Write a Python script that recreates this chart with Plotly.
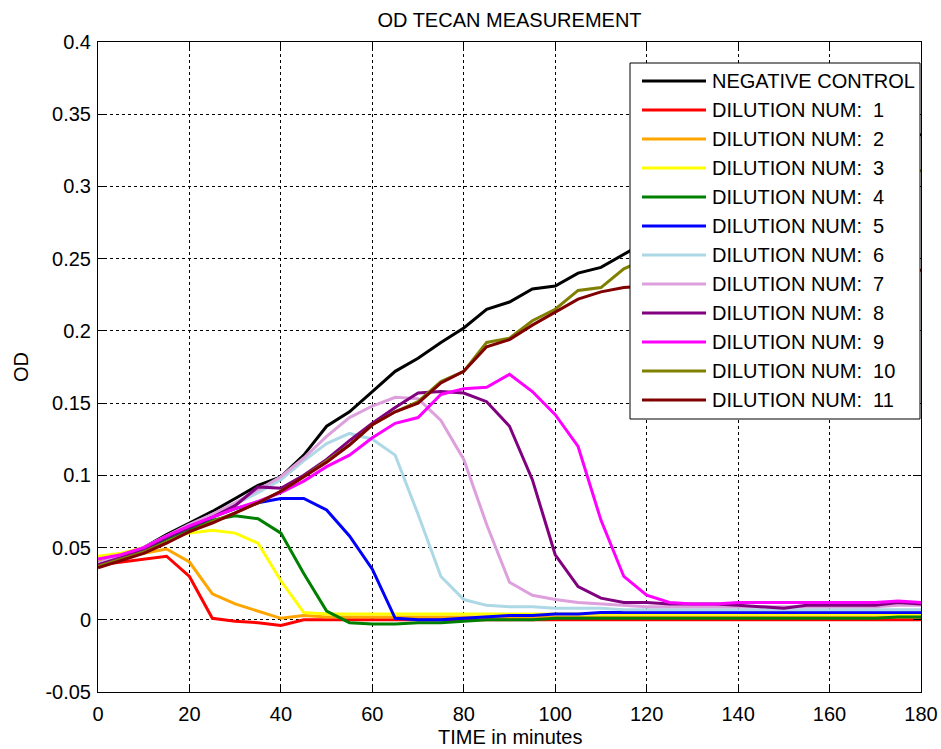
import plotly.graph_objects as go

# Sampling times (minutes)
time_min = list(range(0, 181, 5))

# OD readings per well
neg_control = [0.039, 0.044, 0.050, 0.059, 0.067, 0.075, 0.084, 0.093, 0.099, 0.114,
               0.134, 0.144, 0.158, 0.172, 0.181, 0.192, 0.202, 0.215, 0.220, 0.229,
               0.231, 0.240, 0.244, 0.253, 0.262, 0.270, 0.278, 0.285, 0.292, 0.299,
               0.305, 0.311, 0.317, 0.322, 0.327, 0.332, 0.336]
dil_1 = [0.038, 0.040, 0.042, 0.044, 0.030, 0.001, -0.001, -0.002, -0.004, 0.000,
         0.000, 0.000, 0.000, 0.000, 0.000, 0.000, 0.000, 0.000, 0.000, 0.000,
         0.000, 0.000, 0.000, 0.000, 0.000, 0.000, 0.000, 0.000, 0.000, 0.000,
         0.000, 0.000, 0.000, 0.000, 0.000, 0.000, 0.000]
dil_2 = [0.040, 0.044, 0.046, 0.049, 0.040, 0.018, 0.011, 0.006, 0.001, 0.003,
         0.002, 0.002, 0.002, 0.002, 0.002, 0.002, 0.002, 0.002, 0.002, 0.002,
         0.002, 0.002, 0.002, 0.002, 0.002, 0.002, 0.002, 0.002, 0.002, 0.002,
         0.002, 0.002, 0.002, 0.002, 0.002, 0.002, 0.002]
dil_3 = [0.044, 0.046, 0.050, 0.057, 0.060, 0.062, 0.060, 0.053, 0.027, 0.005,
         0.004, 0.004, 0.004, 0.004, 0.004, 0.004, 0.004, 0.004, 0.004, 0.004,
         0.004, 0.004, 0.004, 0.004, 0.004, 0.004, 0.004, 0.004, 0.004, 0.004,
         0.004, 0.004, 0.004, 0.004, 0.004, 0.004, 0.004]
dil_4 = [0.038, 0.043, 0.048, 0.056, 0.063, 0.069, 0.072, 0.070, 0.060, 0.032,
         0.006, -0.002, -0.003, -0.003, -0.002, -0.002, -0.001, 0.000, 0.000, 0.000,
         0.001, 0.001, 0.001, 0.001, 0.001, 0.001, 0.001, 0.001, 0.001, 0.001,
         0.001, 0.001, 0.001, 0.001, 0.001, 0.002, 0.002]
dil_5 = [0.039, 0.044, 0.049, 0.057, 0.064, 0.071, 0.077, 0.081, 0.084, 0.084,
         0.076, 0.058, 0.035, 0.001, 0.000, 0.000, 0.001, 0.002, 0.003, 0.003,
         0.004, 0.004, 0.005, 0.005, 0.005, 0.005, 0.005, 0.005, 0.005, 0.005,
         0.005, 0.005, 0.005, 0.005, 0.005, 0.005, 0.005]
dil_6 = [0.039, 0.044, 0.050, 0.058, 0.065, 0.073, 0.080, 0.088, 0.097, 0.110,
         0.122, 0.129, 0.125, 0.114, 0.073, 0.030, 0.014, 0.010, 0.009, 0.009,
         0.008, 0.008, 0.008, 0.007, 0.007, 0.007, 0.007, 0.007, 0.007, 0.007,
         0.007, 0.007, 0.007, 0.007, 0.007, 0.007, 0.007]
dil_7 = [0.039, 0.044, 0.050, 0.058, 0.066, 0.073, 0.081, 0.090, 0.099, 0.112,
         0.127, 0.140, 0.148, 0.154, 0.153, 0.138, 0.111, 0.066, 0.026, 0.017,
         0.014, 0.012, 0.011, 0.010, 0.009, 0.009, 0.009, 0.009, 0.009, 0.009,
         0.009, 0.009, 0.009, 0.009, 0.009, 0.010, 0.010]
dil_8 = [0.038, 0.043, 0.049, 0.057, 0.064, 0.071, 0.079, 0.092, 0.091, 0.100,
         0.111, 0.124, 0.136, 0.147, 0.157, 0.158, 0.157, 0.151, 0.134, 0.097,
         0.045, 0.023, 0.015, 0.012, 0.012, 0.011, 0.011, 0.011, 0.010, 0.009,
         0.008, 0.010, 0.010, 0.010, 0.010, 0.012, 0.011]
dil_9 = [0.042, 0.045, 0.050, 0.058, 0.065, 0.071, 0.077, 0.082, 0.088, 0.096,
         0.106, 0.114, 0.126, 0.136, 0.140, 0.156, 0.160, 0.161, 0.170, 0.158,
         0.142, 0.120, 0.069, 0.030, 0.017, 0.012, 0.011, 0.011, 0.012, 0.012,
         0.012, 0.012, 0.012, 0.012, 0.012, 0.013, 0.012]
dil_10 = [0.037, 0.042, 0.047, 0.054, 0.061, 0.068, 0.074, 0.081, 0.089, 0.099,
          0.110, 0.121, 0.135, 0.144, 0.151, 0.165, 0.172, 0.192, 0.195, 0.207,
          0.215, 0.228, 0.230, 0.243, 0.250, 0.257, 0.263, 0.270, 0.276, 0.281,
          0.287, 0.292, 0.297, 0.301, 0.305, 0.308, 0.311]
dil_11 = [0.036, 0.041, 0.046, 0.053, 0.061, 0.067, 0.074, 0.081, 0.089, 0.099,
          0.109, 0.121, 0.135, 0.144, 0.150, 0.164, 0.172, 0.189, 0.194, 0.204,
          0.213, 0.222, 0.227, 0.230, 0.231, 0.233, 0.235, 0.236, 0.237, 0.238,
          0.239, 0.240, 0.240, 0.241, 0.241, 0.242, 0.242]

series = [neg_control, dil_1, dil_2, dil_3, dil_4, dil_5, dil_6, dil_7, dil_8,
          dil_9, dil_10, dil_11]
names = ["NEGATIVE CONTROL"] + ["DILUTION NUM:\u00a0\u00a0" + str(i) for i in range(1, 12)]
colors = ["#000000", "#FF0000", "#FFA500", "#FFFF00", "#008000", "#0000FF",
          "#ADD8E6", "#DDA0DD", "#800080", "#FF00FF", "#808000", "#800000"]

x_ticks = list(range(0, 181, 20))
y_ticks = [-0.05, 0, 0.05, 0.1, 0.15, 0.2, 0.25, 0.3, 0.35, 0.4]
y_tick_text = ["-0.05", "0", "0.05", "0.1", "0.15", "0.2", "0.25", "0.3", "0.35", "0.4"]

FONT = "Liberation Sans, Arial, sans-serif"
W, H = 941, 749
ML, MR, MT, MB = 98, 20, 42, 57
PW, PH = W - ML - MR, H - MT - MB


def px_x(px):
    return (px - ML) / PW


def px_y(py):
    return (H - MB - py) / PH


fig = go.Figure()
for vals, name, col in zip(series, names, colors):
    fig.add_trace(go.Scatter(x=time_min, y=vals, mode="lines", name=name,
                             line=dict(color=col, width=3), showlegend=False))

shapes = []
annotations = []

# Boxed legend in the upper right corner of the axes
box_l, box_r, box_t, box_b = 630, 920, 63, 419
row0, row_step = 81, 29.0
shapes.append(dict(type="rect", xref="paper", yref="paper",
                   x0=px_x(box_l), x1=px_x(box_r), y0=px_y(box_b), y1=px_y(box_t),
                   line=dict(color="black", width=1), fillcolor="white", layer="above"))
for i, (name, col) in enumerate(zip(names, colors)):
    yy = px_y(row0 + i * row_step)
    shapes.append(dict(type="line", xref="paper", yref="paper",
                       x0=px_x(642), x1=px_x(706), y0=yy, y1=yy,
                       line=dict(color=col, width=3), layer="above"))
    annotations.append(dict(xref="paper", yref="paper", x=px_x(710), y=yy,
                            text=name, showarrow=False, xanchor="left", yanchor="middle",
                            font=dict(family=FONT, size=20, color="black")))

# Axis titles
annotations.append(dict(xref="paper", yref="paper", x=0.5, y=px_y(737),
                        text="TIME in minutes", showarrow=False,
                        xanchor="center", yanchor="middle",
                        font=dict(family=FONT, size=20, color="black")))
annotations.append(dict(xref="paper", yref="paper", x=px_x(21), y=0.5,
                        text="OD", showarrow=False, textangle=-90,
                        xanchor="center", yanchor="middle",
                        font=dict(family=FONT, size=20, color="black")))

axis_common = dict(showline=True, linecolor="black", linewidth=1, mirror="ticks",
                   ticks="inside", ticklen=8, tickcolor="black", tickwidth=1,
                   showgrid=True, gridcolor="black", gridwidth=1, griddash="3px,3px",
                   zeroline=False, automargin=False,
                   tickfont=dict(family=FONT, size=20, color="black"))

fig.update_layout(
    width=W, height=H,
    margin=dict(l=ML, r=MR, t=MT, b=MB),
    paper_bgcolor="white", plot_bgcolor="white",
    font=dict(family=FONT, size=20, color="black"),
    title=dict(text="OD TECAN MEASUREMENT", x=(ML + PW / 2) / W,
               xanchor="center", y=1 - 20 / H, yanchor="middle", xref="container",
               font=dict(family=FONT, size=20, color="black")),
    xaxis=dict(range=[0, 180], tickvals=x_ticks, ticktext=[str(v) for v in x_ticks],
               ticklabelstandoff=4, **axis_common),
    yaxis=dict(range=[-0.05, 0.4], tickvals=y_ticks, ticktext=y_tick_text,
               ticklabelstandoff=2, **axis_common),
    shapes=shapes,
    annotations=annotations,
)

fig.write_html("out.html")
